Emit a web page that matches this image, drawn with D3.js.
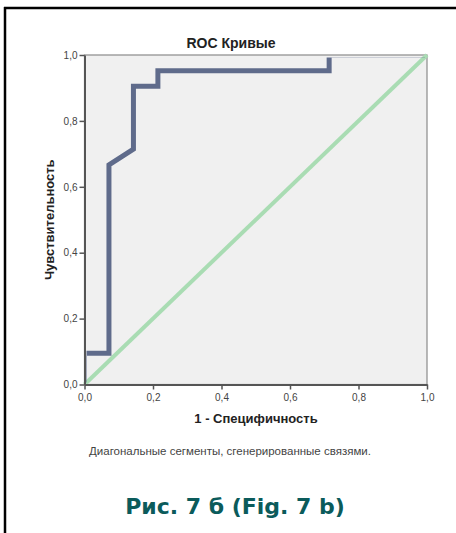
<!DOCTYPE html>
<html>
<head>
<meta charset="utf-8">
<script src="https://cdn.jsdelivr.net/npm/d3@7"></script>
<style>
  body { margin: 0; background: #fff; }
  svg { display: block; }
</style>
</head>
<body>
<div id="chart"></div>
<script>
// ROC curve points: 1 - specificity, sensitivity
const fpr = [0, 0, 0.0714, 0.0714, 0.1429, 0.1429, 0.2143, 0.2143, 0.7143, 0.7143, 1];
const tpr = [0, 0.0952, 0.0952, 0.6667, 0.7143, 0.9048, 0.9048, 0.9524, 0.9524, 1, 1];
const refLine = [[0, 0], [1, 1]];
const ticks = [0, 0.2, 0.4, 0.6, 0.8, 1.0];

const W = 456, H = 533;
const plot = {left: 84.5, right: 427, top: 55, bottom: 384.5};

const svg = d3.select("#chart").append("svg")
  .attr("width", W).attr("height", H);

// outer frame (top and left only)
svg.append("line").attr("x1", 4).attr("x2", W).attr("y1", 8).attr("y2", 8)
  .attr("stroke", "#000").attr("stroke-width", 2.5);
svg.append("line").attr("x1", 5).attr("x2", 5).attr("y1", 7).attr("y2", H)
  .attr("stroke", "#000").attr("stroke-width", 2.5);

const x = d3.scaleLinear().domain([0, 1]).range([plot.left, plot.right]);
const y = d3.scaleLinear().domain([0, 1]).range([plot.bottom, plot.top]);
const fmt = d => d3.format(".1f")(d).replace(".", ",");

svg.append("defs").append("clipPath").attr("id", "clip")
  .append("rect")
  .attr("x", plot.left + 2).attr("y", plot.top + 2.5)
  .attr("width", plot.right - plot.left - 4).attr("height", plot.bottom - plot.top - 4.5);

svg.append("rect")
  .attr("x", plot.left).attr("y", plot.top)
  .attr("width", plot.right - plot.left).attr("height", plot.bottom - plot.top)
  .attr("fill", "#f0f0f0").attr("stroke", "#8a8a8a").attr("stroke-width", 1.2);

// diagonal reference
svg.append("path")
  .datum(refLine)
  .attr("fill", "none")
  .attr("stroke", "#a9dcb3")
  .attr("stroke-width", 4)
  .attr("d", d3.line().x(d => x(d[0])).y(d => y(d[1])));

// ROC curve
const pts = fpr.map((v, i) => [v, tpr[i]]);
svg.append("path")
  .datum(pts)
  .attr("clip-path", "url(#clip)")
  .attr("fill", "none")
  .attr("stroke", "#5f6b8b")
  .attr("stroke-width", 5)
  .attr("stroke-linejoin", "miter")
  .attr("d", d3.line().x(d => x(d[0])).y(d => y(d[1])));

const xAxis = svg.append("g")
  .attr("transform", `translate(0,${plot.bottom})`)
  .call(d3.axisBottom(x).tickValues(ticks).tickFormat(fmt).tickSize(5).tickSizeOuter(0));
const yAxis = svg.append("g")
  .attr("transform", `translate(${plot.left},0)`)
  .call(d3.axisLeft(y).tickValues(ticks).tickFormat(fmt).tickSize(5).tickSizeOuter(0));

[xAxis, yAxis].forEach(g => {
  g.select(".domain").attr("stroke", "#555").attr("stroke-width", 2);
  g.selectAll(".tick line").attr("stroke", "#555").attr("stroke-width", 1.5);
  g.selectAll(".tick text")
    .attr("fill", "#444")
    .style("font-family", "Liberation Sans, Arial, sans-serif")
    .style("font-size", "10px");
});
xAxis.selectAll(".tick text").attr("dy", "0.85em");
yAxis.selectAll(".tick text").attr("dx", "0.1em");

// titles
svg.append("text")
  .attr("x", 231).attr("y", 48)
  .attr("text-anchor", "middle")
  .style("font-family", "Liberation Sans, Arial, sans-serif")
  .style("font-size", "14px").style("font-weight", "bold")
  .attr("fill", "#222")
  .text("ROC Кривые");

svg.append("text")
  .attr("transform", `translate(54,${(plot.top + plot.bottom) / 2}) rotate(-90)`)
  .attr("text-anchor", "middle")
  .style("font-family", "Liberation Sans, Arial, sans-serif")
  .style("font-size", "13px").style("font-weight", "bold")
  .attr("fill", "#222")
  .text("Чувствительность");

svg.append("text")
  .attr("x", 256).attr("y", 423)
  .attr("text-anchor", "middle")
  .style("font-family", "Liberation Sans, Arial, sans-serif")
  .style("font-size", "13px").style("font-weight", "bold")
  .attr("fill", "#222")
  .text("1 - Специфичность");

svg.append("text")
  .attr("x", 230).attr("y", 455)
  .attr("text-anchor", "middle")
  .style("font-family", "Liberation Sans, Arial, sans-serif")
  .style("font-size", "11.5px")
  .attr("fill", "#444")
  .text("Диагональные сегменты, сгенерированные связями.");

svg.append("text")
  .attr("x", 235).attr("y", 514)
  .attr("text-anchor", "middle")
  .style("font-family", "'DejaVu Sans', sans-serif")
  .style("font-size", "22px").style("font-weight", "bold")
  .attr("fill", "#0b5b5b")
  .text("Рис. 7 б (Fig. 7 b)");
</script>
</body>
</html>
